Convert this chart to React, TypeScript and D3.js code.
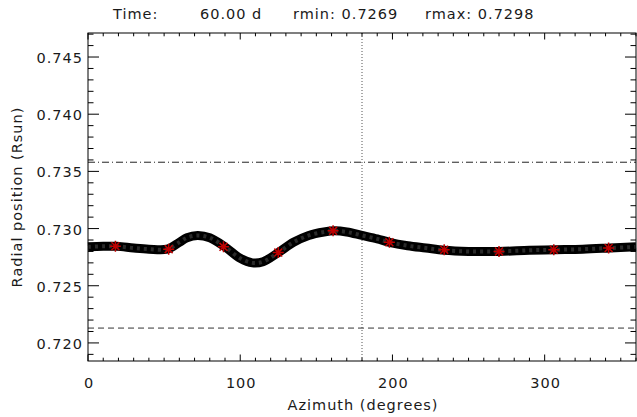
import React, { useEffect, useRef } from 'react';
import * as d3 from 'd3';

// fitted profile r(azimuth)
const curveAz = [0, 10, 19, 30, 40, 52, 60, 65, 72, 80, 90, 100, 108, 115, 125, 135, 145, 155, 162, 170, 180, 190, 198, 210, 222, 234, 250, 270, 290, 307, 325, 343, 360];
const curveR = [0.7284, 0.72845, 0.72845, 0.7283, 0.7282, 0.7282, 0.7288, 0.7292, 0.7294, 0.7292, 0.7284, 0.7274, 0.7270, 0.7271, 0.7279, 0.7288, 0.7294, 0.7297, 0.7298, 0.7297, 0.7294, 0.7291, 0.7288, 0.7285, 0.7283, 0.7281, 0.7280, 0.7280, 0.7281, 0.72815, 0.7282, 0.7283, 0.7284];

// sampled points (red asterisks)
const pointAz = [18, 53, 89, 125, 161, 198, 234, 270, 306, 342];
const pointR = [0.72845, 0.7282, 0.7284, 0.7279, 0.7298, 0.7288, 0.72815, 0.7280, 0.72815, 0.7283];

const yTicks = [0.720, 0.725, 0.730, 0.735, 0.740, 0.745];
const xTicks = [0, 100, 200, 300];
const upperLevel = 0.7358;
const lowerLevel = 0.7213;
const markAz = 180;

const titleParts = ['Time:', '60.00 d', 'rmin: 0.7269', 'rmax: 0.7298'];
const titleX = [113, 200, 293, 425];

const W = 637, H = 417;
const font = 'DejaVu Sans, sans-serif';

export default function App() {
  const ref = useRef<SVGSVGElement>(null);

  useEffect(() => {
    const svg = d3.select(ref.current);
    svg.selectAll('*').remove();

    const margin = { top: 33, right: 1, bottom: 56, left: 88 };
    const width = W - margin.left - margin.right;
    const height = H - margin.top - margin.bottom;

    const x = d3.scaleLinear().domain([0, 360]).range([0, width]);
    const y = d3.scaleLinear().domain([0.71842, 0.7471]).range([height, 0]);

    const g = svg.append('g').attr('transform', `translate(${margin.left},${margin.top})`);

    // reference lines
    g.append('line')
      .attr('x1', x(markAz)).attr('x2', x(markAz))
      .attr('y1', 0).attr('y2', height)
      .attr('stroke', '#555').attr('stroke-width', 1)
      .attr('stroke-dasharray', '1,2');
    g.append('line')
      .attr('x1', 0).attr('x2', width)
      .attr('y1', y(upperLevel)).attr('y2', y(upperLevel))
      .attr('stroke', '#222').attr('stroke-width', 1)
      .attr('stroke-dasharray', '7,3,1,3');
    g.append('line')
      .attr('x1', 0).attr('x2', width)
      .attr('y1', y(lowerLevel)).attr('y2', y(lowerLevel))
      .attr('stroke', '#333').attr('stroke-width', 1)
      .attr('stroke-dasharray', '6,4');

    // thick profile
    const data = curveAz.map((a, i) => ({ a, r: curveR[i] }));
    const line = d3.line<{ a: number; r: number }>()
      .x(d => x(d.a))
      .y(d => y(d.r))
      .curve(d3.curveCatmullRom.alpha(0.5));

    g.append('path')
      .attr('d', line(data))
      .attr('fill', 'none')
      .attr('stroke', '#000')
      .attr('stroke-width', 9);
    g.append('path')
      .attr('d', line(data))
      .attr('fill', 'none')
      .attr('stroke', '#2a2a2a')
      .attr('stroke-width', 4)
      .attr('stroke-dasharray', '3,4');

    // asterisks
    const s = 5.5;
    const d2 = s * 0.72;
    const stars = g.selectAll('g.star')
      .data(pointAz.map((a, i) => ({ a, r: pointR[i] })))
      .enter().append('g')
      .attr('class', 'star')
      .attr('transform', d => `translate(${x(d.a)},${y(d.r)})`);
    stars.append('path')
      .attr('d', `M${-s},0L${s},0M0,${-s}L0,${s}M${-d2},${-d2}L${d2},${d2}M${-d2},${d2}L${d2},${-d2}`)
      .attr('stroke', '#c00000')
      .attr('stroke-width', 1.5)
      .attr('fill', 'none');

    // axes frame
    g.append('rect')
      .attr('width', width).attr('height', height)
      .attr('fill', 'none').attr('stroke', '#000').attr('stroke-width', 1);

    const xMajor = 6.5, xMinor = 3.3, yMajor = 11, yMinor = 5.5;
    const xMinorTicks = d3.range(0, 361, 10);
    const yMinorTicks = d3.range(719, 748).map(v => v / 1000);

    const tk = g.append('g').attr('stroke', '#000').attr('stroke-width', 1);
    xMinorTicks.forEach(v => {
      const len = v % 100 === 0 ? xMajor : xMinor;
      tk.append('line').attr('x1', x(v)).attr('x2', x(v)).attr('y1', height).attr('y2', height - len);
      tk.append('line').attr('x1', x(v)).attr('x2', x(v)).attr('y1', 0).attr('y2', len);
    });
    yMinorTicks.forEach(v => {
      if (y(v) < 0 || y(v) > height) return;
      const major = Math.round(v * 1000) % 5 === 0;
      const len = major ? yMajor : yMinor;
      tk.append('line').attr('x1', 0).attr('x2', len).attr('y1', y(v)).attr('y2', y(v));
      tk.append('line').attr('x1', width).attr('x2', width - len).attr('y1', y(v)).attr('y2', y(v));
    });

    const txt = (sel: any) => sel
      .attr('font-family', font).attr('font-size', 14.5)
      .attr('letter-spacing', 1).attr('fill', '#1a1a1a');

    // tick labels
    g.selectAll('text.xl').data(xTicks).enter().append('text')
      .attr('x', d => x(d) + 1).attr('y', height + 27)
      .attr('text-anchor', 'middle')
      .call(txt)
      .text(d => String(d));
    g.selectAll('text.yl').data(yTicks).enter().append('text')
      .attr('x', -5).attr('y', d => y(d) + 6)
      .attr('text-anchor', 'end')
      .call(txt)
      .text(d => d3.format('.3f')(d));

    // axis titles
    svg.append('text')
      .attr('x', margin.left + width / 2 + 1).attr('y', 410)
      .attr('text-anchor', 'middle')
      .call(txt)
      .text('Azimuth (degrees)');
    svg.append('text')
      .attr('transform', `translate(22,${margin.top + height / 2}) rotate(-90)`)
      .attr('text-anchor', 'middle')
      .call(txt)
      .text('Radial position (Rsun)');

    // title
    svg.selectAll('text.tt').data(titleParts).enter().append('text')
      .attr('x', (d, i) => titleX[i]).attr('y', 19)
      .call(txt)
      .text(d => d);
  }, []);

  return (
    <svg ref={ref} width={W} height={H}
      style={{ position: 'absolute', left: 0, top: 0, background: '#fff' }} />
  );
}
